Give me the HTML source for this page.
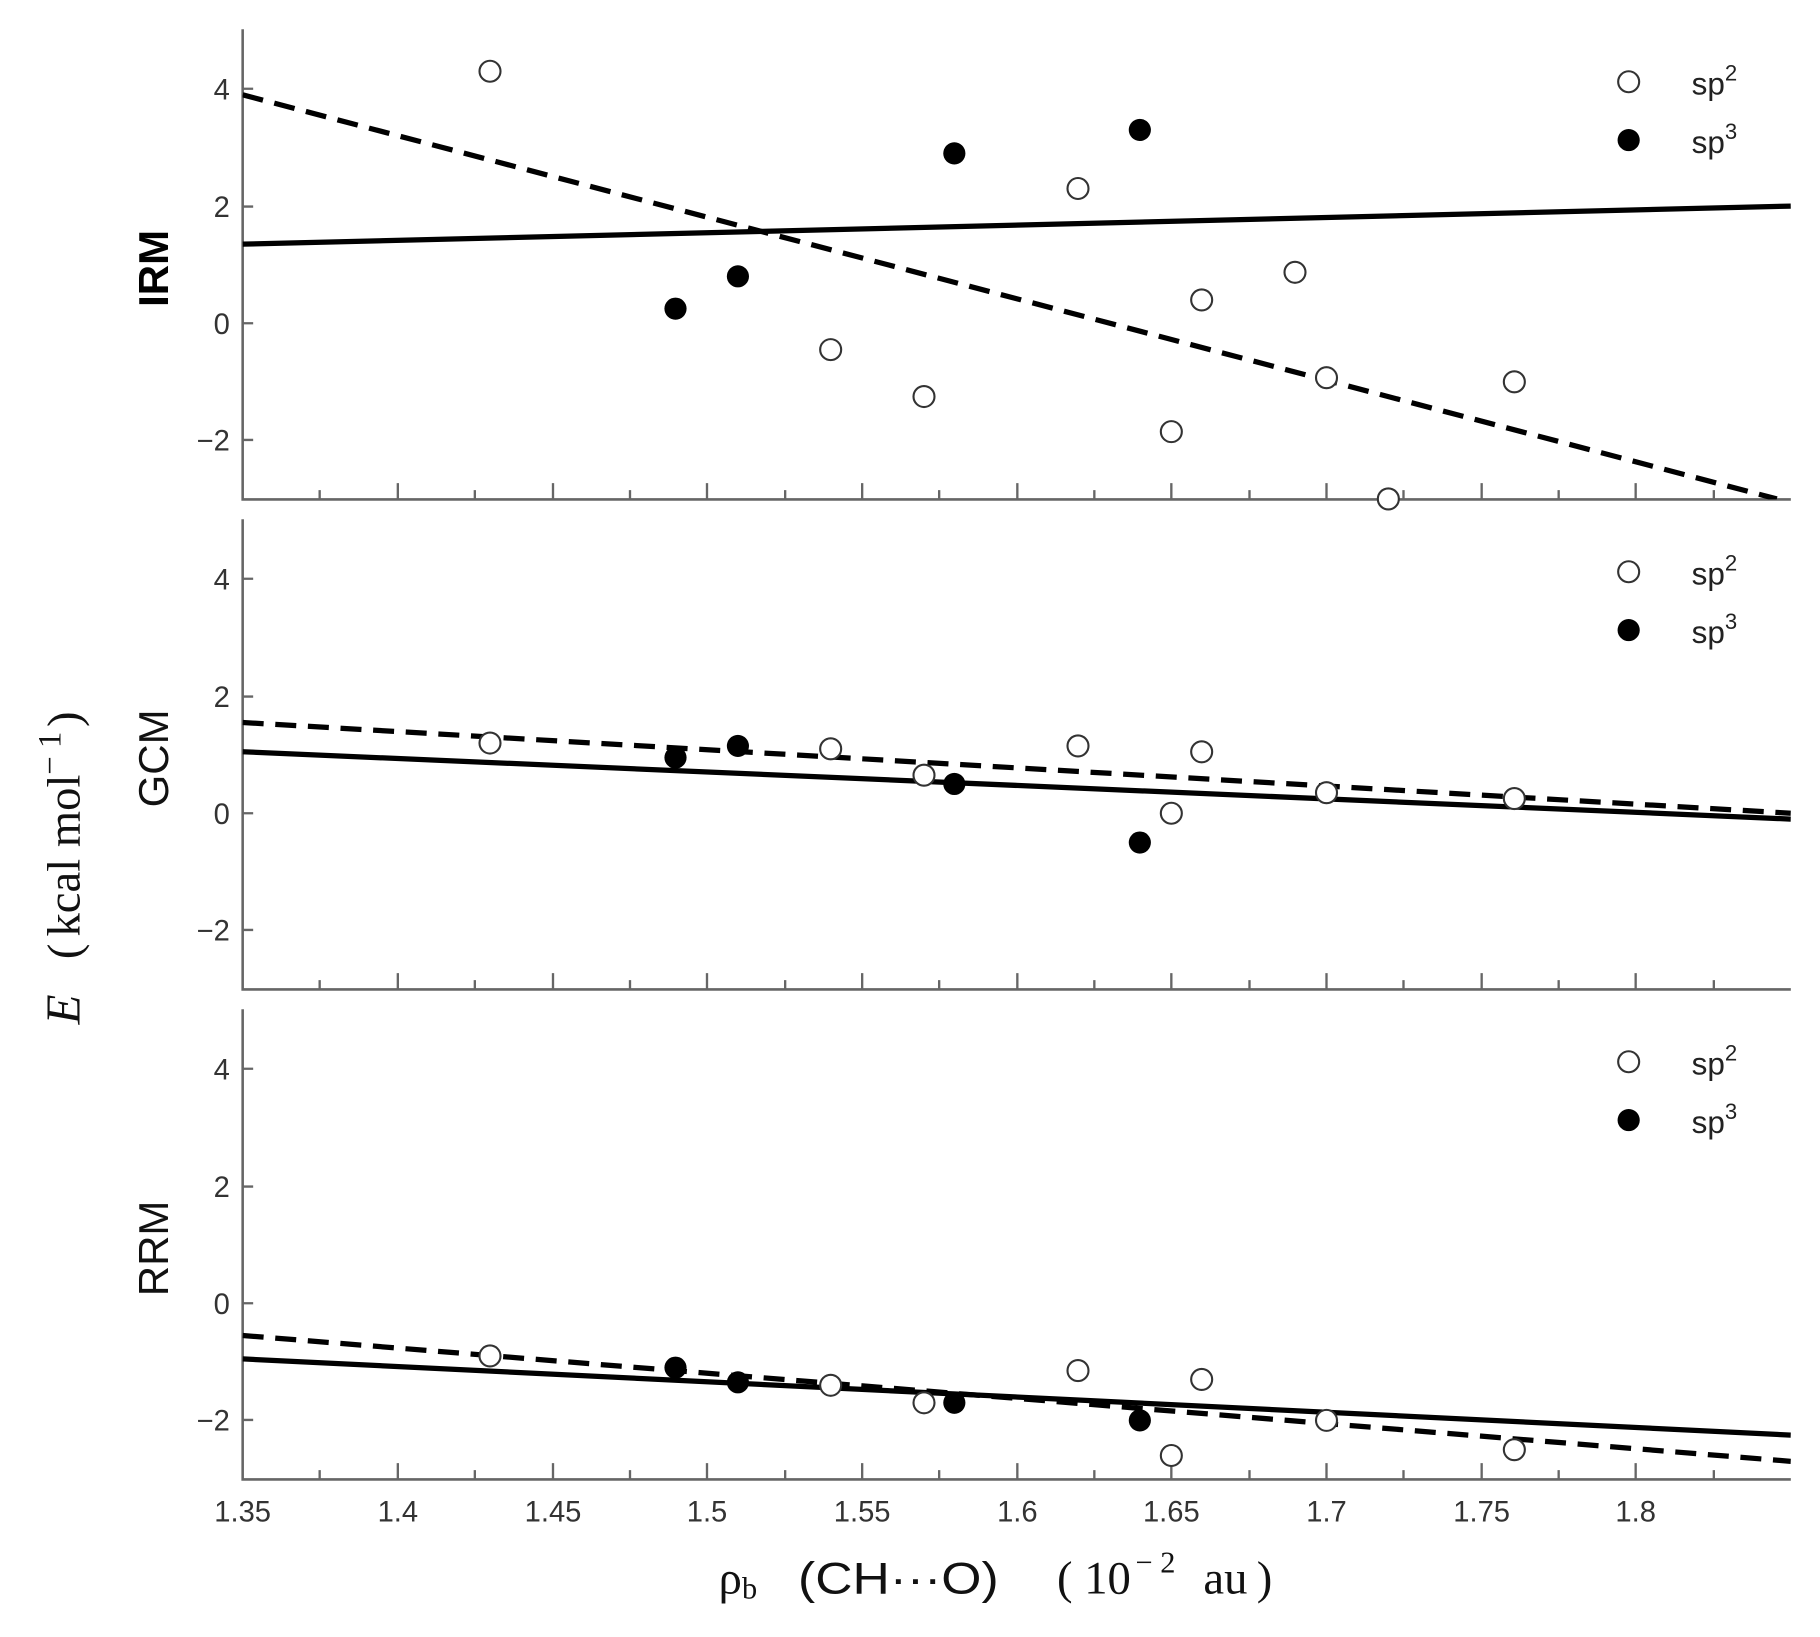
<!DOCTYPE html>
<html><head><meta charset="utf-8"><style>html,body{margin:0;padding:0;background:#fff}svg{display:block}</style></head>
<body>
<svg width="1820" height="1637" viewBox="0 0 1560 1403" xmlns="http://www.w3.org/2000/svg" font-family="Liberation Sans, sans-serif">
<defs>
<clipPath id="c"><rect x="208" y="-252" width="1327" height="403"/></clipPath>
<g id="axes">
<path d="M208,-252 V151 H1535" fill="none" stroke="#666" stroke-width="2.2"/>
<g stroke="#666" stroke-width="2">
<path d="M208,-201h9M208,-100h9M208,0h9M208,100h9"/>
<path d="M341,151v-14M474,151v-14M606,151v-14M739,151v-14M872,151v-14M1004,151v-14M1137,151v-14M1270,151v-14M1402,151v-14"/>
<path d="M274,151v-8M407,151v-8M540,151v-8M673,151v-8M805,151v-8M938,151v-8M1071,151v-8M1203,151v-8M1336,151v-8M1469,151v-8"/>
</g>
<g font-size="25" fill="#333" text-anchor="end">
<text x="197" y="-192">4</text><text x="197" y="-91">2</text><text x="197" y="9">0</text><text x="197" y="109">−2</text>
</g>
<circle cx="1396" cy="-207" r="9" fill="#fff" stroke="#333" stroke-width="1.8"/>
<circle cx="1396" cy="-157" r="9.5" fill="#000"/>
<text x="1450" y="-196" font-size="27" fill="#222">sp<tspan dy="-12" font-size="19">2</tspan></text>
<text x="1450" y="-146" font-size="27" fill="#222">sp<tspan dy="-12" font-size="19">3</tspan></text>
</g>
</defs>
<g transform="translate(0,277)">
<use href="#axes"/>
<g clip-path="url(#c)">
<line x1="208" y1="-67.8" x2="1535" y2="-100.4" stroke="#000" stroke-width="4.5"/>
<line x1="208" y1="-195.8" x2="1523" y2="150.6" stroke="#000" stroke-width="4.5" stroke-dasharray="18,10"/>
</g>
<g fill="#fff" stroke="#333" stroke-width="1.8">
<circle cx="420" cy="-216" r="9"/><circle cx="712" cy="22.6" r="9"/><circle cx="792" cy="62.8" r="9"/><circle cx="924" cy="-115.5" r="9"/><circle cx="1004" cy="92.9" r="9"/><circle cx="1030" cy="-20" r="9"/><circle cx="1110" cy="-43.7" r="9"/><circle cx="1137" cy="46.7" r="9"/><circle cx="1190" cy="150.6" r="9"/><circle cx="1298" cy="50.2" r="9"/>
</g>
<g fill="#000"><circle cx="579" cy="-12.5" r="9.5"/><circle cx="632.5" cy="-40.2" r="9.5"/><circle cx="818" cy="-145.6" r="9.5"/><circle cx="977" cy="-165.7" r="9.5"/></g>
</g>
<g transform="translate(0,697)">
<use href="#axes"/>
<g clip-path="url(#c)">
<line x1="208" y1="-52.7" x2="1535" y2="5" stroke="#000" stroke-width="4.5"/>
<line x1="208" y1="-77.8" x2="1535" y2="0" stroke="#000" stroke-width="4.5" stroke-dasharray="18,10"/>
</g>
<g fill="#fff" stroke="#333" stroke-width="1.8">
<circle cx="420" cy="-60.2" r="9"/><circle cx="712" cy="-55.2" r="9"/><circle cx="792" cy="-32.6" r="9"/><circle cx="924" cy="-57.7" r="9"/><circle cx="1004" cy="0" r="9"/><circle cx="1030" cy="-52.7" r="9"/><circle cx="1137" cy="-17.6" r="9"/><circle cx="1298" cy="-12.6" r="9"/>
</g>
<g fill="#000"><circle cx="579" cy="-47.7" r="9.5"/><circle cx="632.5" cy="-57.7" r="9.5"/><circle cx="818" cy="-25.1" r="9.5"/><circle cx="977" cy="25.1" r="9.5"/></g>
</g>
<g transform="translate(0,1117)">
<use href="#axes"/>
<g clip-path="url(#c)">
<line x1="208" y1="47.7" x2="1535" y2="113" stroke="#000" stroke-width="4.5"/>
<line x1="208" y1="27.6" x2="1535" y2="135.5" stroke="#000" stroke-width="4.5" stroke-dasharray="18,10"/>
</g>
<g fill="#fff" stroke="#333" stroke-width="1.8">
<circle cx="420" cy="45.2" r="9"/><circle cx="712" cy="70.3" r="9"/><circle cx="792" cy="85.3" r="9"/><circle cx="924" cy="57.7" r="9"/><circle cx="1004" cy="130.5" r="9"/><circle cx="1030" cy="65.3" r="9"/><circle cx="1137" cy="100.4" r="9"/><circle cx="1298" cy="125.5" r="9"/>
</g>
<g fill="#000"><circle cx="579" cy="55.2" r="9.5"/><circle cx="632.5" cy="67.8" r="9.5"/><circle cx="818" cy="85.3" r="9.5"/><circle cx="977" cy="100.4" r="9.5"/></g>
</g>
<g font-size="25" fill="#333" text-anchor="middle">
<text x="208" y="1304">1.35</text><text x="341" y="1304">1.4</text><text x="474" y="1304">1.45</text><text x="606" y="1304">1.5</text><text x="739" y="1304">1.55</text><text x="872" y="1304">1.6</text><text x="1004" y="1304">1.65</text><text x="1137" y="1304">1.7</text><text x="1270" y="1304">1.75</text><text x="1402" y="1304">1.8</text>
</g>
<text x="616" y="1366" font-size="40" fill="#111" font-family="Liberation Serif, serif">ρ<tspan font-size="26" dy="4">b</tspan></text>
<text x="684" y="1366" font-size="38" fill="#111" textLength="172" lengthAdjust="spacingAndGlyphs">(CH···O)</text>
<text x="906" y="1366" font-size="40" fill="#111" font-family="Liberation Serif, serif">(<tspan dx="10">10</tspan><tspan font-size="26" dy="-18" dx="4">− 2</tspan><tspan dy="18" dx="24">au</tspan><tspan dx="8">)</tspan></text>
<text transform="translate(144,230) rotate(-90)" font-size="36" font-weight="bold" text-anchor="middle" fill="#000">IRM</text>
<text transform="translate(144,650) rotate(-90)" font-size="36" text-anchor="middle" fill="#111">GCM</text>
<text transform="translate(144,1070) rotate(-90)" font-size="36" text-anchor="middle" fill="#111">RRM</text>
<text transform="translate(68,878) rotate(-90)" font-size="42" font-style="italic" font-family="Liberation Serif, serif" fill="#111">E</text>
<text transform="translate(68,822) rotate(-90)" font-size="40" font-family="Liberation Serif, serif" fill="#111">(<tspan dx="6">kcal</tspan><tspan dx="10">mol</tspan><tspan font-size="28" dy="-16">− 1</tspan><tspan dy="16" dx="4">)</tspan></text>
</svg>
</body></html>
